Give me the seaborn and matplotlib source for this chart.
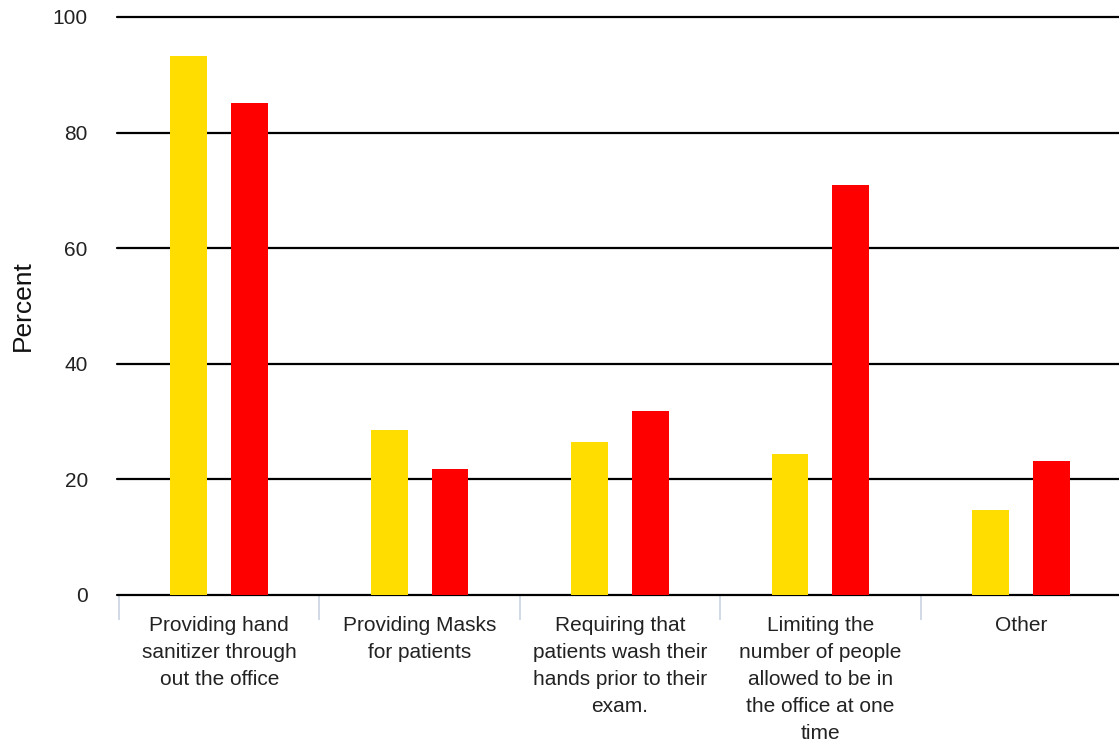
import matplotlib
matplotlib.use("Agg")
import matplotlib.pyplot as plt
import seaborn as sns
import pandas as pd
from matplotlib.ticker import FixedLocator

categories = [
    "Providing hand\nsanitizer through\nout the office",
    "Providing Masks\nfor patients",
    "Requiring that\npatients wash their\nhands prior to their\nexam.",
    "Limiting the\nnumber of people\nallowed to be in\nthe office at one\ntime",
    "Other",
]
series_names = ["Series 1", "Series 2"]
series1 = [93.3, 28.5, 26.5, 24.4, 14.7]
series2 = [85.1, 21.8, 31.8, 70.9, 23.2]
y_ticks = [0, 20, 40, 60, 80, 100]

df = pd.DataFrame({
    "category": categories * 2,
    "series": [series_names[0]] * 5 + [series_names[1]] * 5,
    "value": series1 + series2,
})

sns.set_theme(style="white")
plt.rcParams["font.family"] = ["Liberation Sans", "DejaVu Sans"]

W, H = 1119, 746
fig = plt.figure(figsize=(W / 100, H / 100), dpi=100)
ax = fig.add_axes([117 / W, (H - 595) / H, (W - 117) / W, (595 - 17) / H])

sns.barplot(data=df, x="category", y="value", hue="series", order=categories,
            hue_order=series_names, palette=["#FFDD00", "#FF0000"],
            width=0.607, gap=0.394, saturation=1, errorbar=None,
            linewidth=0, legend=False, ax=ax)

ax.set_xlim(-0.51, len(categories) - 0.51)
ax.set_ylim(0, 100)
ax.set_yticks(y_ticks)
ax.yaxis.grid(True, color="black", linewidth=1.6)
for gl in ax.get_ygridlines():
    gl.set_clip_on(False)
ax.set_axisbelow(True)
for s in ["left", "right", "top", "bottom"]:
    ax.spines[s].set_visible(False)

ax.tick_params(axis="y", left=False, length=0, pad=21, labelsize=15, labelcolor="#222222")
ax.tick_params(axis="x", which="major", bottom=False, length=0, pad=15, labelsize=15, labelcolor="#222222")
ax.xaxis.set_minor_locator(FixedLocator([i - 0.5 for i in range(len(categories))]))
ax.tick_params(axis="x", which="minor", bottom=True, length=18, width=1.2, color="#c9d2e3")
for lab in ax.get_xticklabels():
    lab.set_linespacing(1.53)
    lab.set_verticalalignment("top")

ax.set_xlabel("")
ax.set_ylabel("Percent", fontsize=19, color="#111111", labelpad=13)

fig.savefig("out.png", dpi=100)
